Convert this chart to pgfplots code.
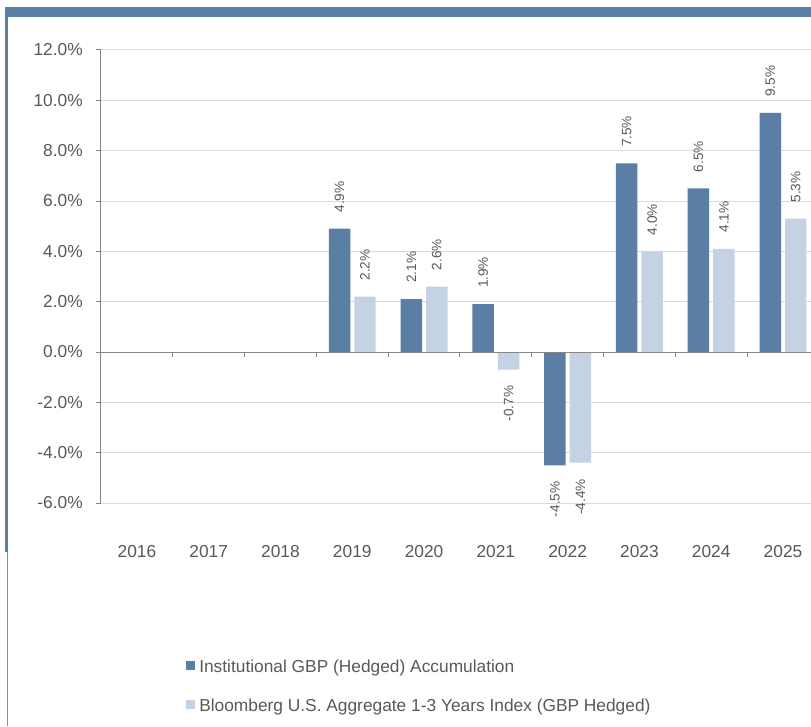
\documentclass[border=0pt]{standalone}
\usepackage{pgfplots}
\usepackage{pgfplotstable}
\usepackage{graphicx}
\pgfplotsset{compat=1.18}
\usepackage{fontspec}
\setmainfont{Liberation Sans}
\definecolor{darkbar}{HTML}{5B7FA4}
\definecolor{lightbar}{HTML}{C5D2E3}
\definecolor{txt}{HTML}{595959}
\definecolor{gridc}{HTML}{D9D9D9}
\definecolor{axisc}{HTML}{868686}
\definecolor{framec}{HTML}{5B7FA4}
\pgfplotstableread{
x inst bench
3 4.9 2.2
4 2.1 2.6
5 1.9 -0.7
6 -4.5 -4.4
7 7.5 4.0
8 6.5 4.1
9 9.5 5.3
}\datatable
\begin{document}
\begin{tikzpicture}
\useasboundingbox (0,0) rectangle (608.25pt,544.5pt);
\fill[white] (0,0) rectangle (608.25pt,544.5pt);
\fill[framec] (3.75pt,531.75pt) rectangle (608.25pt,539.25pt);
\fill[framec] (4.1pt,130.5pt) rectangle (6pt,531.75pt);
\fill[framec!85] (4.9pt,0pt) rectangle (5.9pt,130.5pt);
\begin{axis}[
  at={(75.75pt,167.25pt)}, anchor=south west,
  scale only axis, width=532.5pt, height=339.75pt,
  xmin=-0.5, xmax=9.39, ymin=-6, ymax=12,
  ybar, bar width=16.1pt,
  axis lines*=left,
  x axis line style={draw=none},
  y axis line style={draw=axisc, line width=0.75pt},
  xtick={0,...,9},
  xticklabels={2016,2017,2018,2019,2020,2021,2022,2023,2024,2025},
  x tick style={draw=none},
  xticklabel style={anchor=center, yshift=-33pt},
  ytick={-6,-4,...,12},
  y tick style={draw=axisc, line width=0.75pt},
  tick align=outside, major tick length=3.75pt,
  yticklabel={\pgfmathprintnumber[fixed,fixed zerofill,precision=1]{\tick}\%},
  yticklabel style={anchor=east, inner sep=0pt, xshift=-9.75pt},
  ymajorgrids, grid style={gridc, line width=0.75pt},
  tick label style={font=\fontsize{13pt}{15pt}\selectfont, text=txt},
  /pgf/number format/assume math mode=true,
  nodes near coords={\rotatebox{90}{\pgfmathprintnumber[fixed,fixed zerofill,precision=1]{\pgfplotspointmeta}\%}},
  nodes near coords align={vertical},
  every node near coord/.append style={font=\fontsize{10.2pt}{12pt}\selectfont, text=txt, inner ysep=12pt, inner xsep=0pt},
  legend style={at={(axis description cs:0.1197,-0.3462)}, anchor=north west, draw=none, fill=none, inner sep=0pt,
    font=\fontsize{13pt}{15pt}\selectfont, text=txt, row sep=18.5pt, column sep=3pt, nodes={inner sep=0pt}},
  legend cell align=left,
  legend image code/.code={\fill[#1, draw=none] (0pt,-1.6pt) rectangle (6.75pt,5.15pt);},
  clip=false,
]
\addplot[fill=darkbar, draw=none, bar shift=-9.55pt, forget plot]
  table[x=x, y=inst]{\datatable};
\addplot[fill=lightbar, draw=none, bar shift=9.55pt, forget plot]
  table[x=x, y=bench]{\datatable};
\addlegendimage{fill=darkbar, draw=none}
\addlegendentry{Institutional GBP (Hedged) Accumulation}
\addlegendimage{fill=lightbar, draw=none}
\addlegendentry{Bloomberg U.S. Aggregate 1-3 Years Index (GBP Hedged)}
\draw[axisc, line width=0.75pt] (axis cs:-0.5,0) -- (axis cs:9.39,0);
\pgfplotsinvokeforeach{0.5,1.5,2.5,3.5,4.5,5.5,6.5,7.5,8.5}{
  \draw[axisc, line width=0.75pt] (axis cs:#1,0) -- ++(0pt,-3.75pt);
}
\end{axis}
\end{tikzpicture}
\end{document}
